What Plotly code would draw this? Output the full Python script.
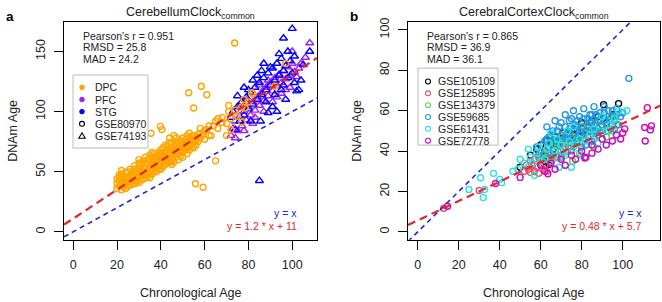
import plotly.graph_objects as go

W, H = 662, 302

# ---------------- data: panel a (CerebellumClock common) ----------------
dpc_pts = [
    (20,36),(20,40),(20,44),(21,38),(21,42),(21,47),(22,35),(22,40),(22,44),(22,48),(23,37),(23,42),(23,46),
    (24,39),(24,44),(24,49),(25,41),(25,45),(25,38),(26,43),(26,47),(27,40),(27,45),(27,50),(28,44),(28,48),
    (28,52),(29,42),(29,47),(29,51),(30,45),(30,49),(30,53),(30,41),(31,47),(31,52),(31,57),(32,44),(32,50),
    (32,55),(33,48),(33,53),(33,58),(34,46),(34,51),(34,56),(35,49),(35,54),(35,60),(35,45),(36,52),(36,57),
    (36,62),(37,50),(37,55),(37,60),(38,53),(38,58),(38,63),(39,55),(39,60),(39,66),(40,52),(40,57),(40,62),
    (40,68),(41,58),(41,63),(41,70),(42,56),(42,61),(42,66),(43,60),(43,65),(43,71),(44,58),(44,63),(44,68),
    (45,61),(45,66),(45,73),(45,56),(46,64),(46,69),(47,62),(47,67),(47,74),(48,65),(48,70),(49,63),(49,68),
    (49,76),(50,66),(50,71),(50,78),(51,68),(51,73),(52,70),(52,75),(53,72),(53,78),(54,70),(54,76),(55,74),
    (55,80),(35.5,82),(39.8,87.7),(40.5,85),(52.7,115.6),(55,103),(58.5,121),(73.7,157),(65,59),(55.8,40),
    (59.3,37),(56,76),(57,81),(58,78),(60,84),(62,88),(63,80),(65,92),(66,86),(68,95),(70,90),(71,100),
    (72,94),(74,101),(75,96),(77,104),(78,110),(80,108),(82,115),(92,121),
    (97,140),(61,114),(68,91),(72,85),(77,91),(71,105),(70,80),(78.5,103),(81.5,115.6),
    (21,45),(22,51),(23,40),(24,36),(25,50),(26,39),(26,52),(27,42),(28,40),(28,55),(29,45),(30,57),(31,43),
    (31,50),(32,47),(32,59),(33,45),(33,62),(34,49),(34,60),(35,52),(35,64),(36,48),(36,55),(37,53),(37,65),
    (38,50),(38,61),(39,52),(39,63),(40,55),(40,65),(41,54),(41,66),(42,59),(42,72),(43,57),(43,68),(44,61),
    (44,74),(45,59),(45,70),(46,58),(46,72),(47,65),(47,78),(48,60),(48,75),(49,66),(49,72),(50,62),(50,74),
    (51,70),(51,76),(52,65),(52,80),(53,68),(53,82),(54,73),(54,79),(55,70),(55,77),(56,72),(57,75),(58,82),
    (59,80),(60,77),(61,85),(62,80),(64,88),(66,94),(58,86),(46,80),(44,78),(36,66),(30,60),
]
pfc_pts = [
    (72,80),(73,86),(74,92),(75,84),(76,96),(77,88),(78,100),(79,93),(80,104),(81,97),(82,108),(83,101),
    (84,112),(85,105),(86,116),(87,109),(88,120),(89,113),(90,124),(91,117),(92,128),(93,121),(94,131),
    (95,124),(96,134),(97,127),(98,137),(99,130),(100,140),(101,133),(102,129),(103,136),(104,140),(100,150),
    (108,157),(106,145),(76,104),(79,110),(83,95),(87,100),(91,108),(95,115),(99,120),(85,122),(89,126),
    (93,112),(97,118),(74,78),(78,84),(82,90),
]
stg_pts = [
    (72,95),(73,100),(74,85),(75,104),(76,92),(77,108),(78,97),(79,112),(80,102),(81,116),(82,106),(83,120),
    (84,110),(85,124),(86,114),(87,128),(88,118),(89,132),(90,122),(91,136),(92,126),(93,140),(94,130),
    (95,144),(96,134),(97,138),(98,128),(99,142),(100,132),(101,146),(102,117),(103,118),(104,126),(105,139),
    (100,169),(96,161),(108,150),(89,99),(81,92),(85.5,92),(85,42.5),(80,118),(84,130),(88,108),(92,114),
    (96,122),(90,137),(94,148),(86,134),(82,126),(78,120),(98,150),(75,113),(93,100),(97,110),(101,124),
    (87,140),(91,104),(95,118),
]
fit_a = (1.2, 11)

# ---------------- data: panel b (CerebralCortexClock common) ----------------
gse105109_pts = [
    (55,38),(58,41),(60,43),(62,40),(63,45),(64,36),(65,44),(66,41),(67,47),(68,43),(70,46),(71,49),(72,44),
    (74,48),(76,51),(77,46),(78,50),(80,54),(81,48),(83,52),(85,55),(86,50),(88,57),(90.7,63),(92,54),
    (95,58),(98,63.5),(62,35),(64,33.5),(50,32),
]
gse125895_pts = [
    (30,20.5),(12.7,11.7),(52,30),(53,33),(54,31),(55,35),(56,33),(57,36),(58,32),(59,37),(60,34),(61,38),
    (62,33),(63,36),(64,39),(65,35),(66,38),(68,37),(70,40),(72,42),(57,30),(59,29),(61,31),(63,30),(55,29.5),
]
gse134379_pts = [
    (60,36),(62,39),(64,41),(66,37),(68,42),(70,38),(72,44),(73,40),(75.6,35),(75,46),(76,42),(78,47),(79,39),
    (80,44),(82,49),(84,45),(85,50),(86,42),(88,48),(90,52),(92,47),(94,55),(95,50),(97,53),(66,45),(70,47),
    (74,49),(80,52),(63,37),(67,43),(71,45),(77,44),(81,46),(83,53),(87,54),(91,55),(93,50),(96,57),
]
gse59685_pts = [
    (60,40),(61,43),(62,38),(63,46),(64,42),(65,48),(66,40),(67,45),(68,50),(69,43),(70,48),(71,41),(72,52),
    (73,46),(74,55),(75,44),(76,49),(77,53),(78,45),(79,57),(80,48),(81,52),(82,43),(83,56),(84,50),(85,54),
    (86,46),(87,58),(88,51),(89,55),(90,49),(91,59),(92,53),(93,57),(94,51),(95,60),(96,55),(97,58),(98,53),
    (100,59),(103,76),(63,52),(67,55),(72,58),(76,60),(81,61),(86,62),(91,62),(70,37),(75,40),(80,42),(85,45),
    (62,45),(64,47),(66,50),(68,45),(69,52),(70,54),(71,46),(73,49),(74,51),(75,56),(76,46),(77,50),(78,55),
    (79,48),(80,51),(81,56),(82,50),(83,47),(84,54),(85,58),(86,53),(87,50),(88,55),(89,59),(90,53),(91,56),
    (92,50),(93,60),(94,56),(96,51),(97,61),(99,57),(58,42),(59,38),(65,39),(72,47),(78,52),(84,58),
]
gse61431_pts = [
    (25,21),(30.7,26.8),(32,17),(32.6,21),(37,29),(40,26),(41,24.4),(46.5,30),(49,31),(57,28),(69,32),(75,32),
    (52,34),(55,37),(58,39),(60,35),(63,41),(66,36),(68,46),(71,39),(73,50),(77,43),(80,38),(84,48),(88,44),
    (92,50),(96,56),(54,41),(50,36),(65,49),(56,34),(59,42),(62,36),(64,44),(67,40),(70,43),(72,38),(74,45),
    (76,52),(79,46),(82,45),(86,51),(90,57),(94,53),(98,60),(102,60),
]
gse72778_pts = [
    (14.6,12.7),(38,24),(50,27),(63.5,28.8),(81.5,36.6),(85,39),(100,49),(101,51),(112,61.5),(110.7,51.7),
    (114,52.5),(111,45),(60,33),(62,30),(65,34),(67,31),(70,36),(72,33),(75,38),(77,36),(80,40),(82,37),
    (85,43),(88,41),(90,46),(92,43),(95,45),(97,48),(99,46),(113.5,50.5),
]
fit_b = (0.48, 5.7)

series_a = [("PFC", pfc_pts, "#A020F0", "triangle-up-open"),
            ("STG", stg_pts, "#0000FF", "triangle-up-open"),
            ("DPC", dpc_pts, "#FFA500", "circle-open")]
series_b = [("GSE105109", gse105109_pts, "#000000"),
            ("GSE125895", gse125895_pts, "#DF536B"),
            ("GSE134379", gse134379_pts, "#61D04F"),
            ("GSE59685", gse59685_pts, "#2297E6"),
            ("GSE61431", gse61431_pts, "#28E2E5"),
            ("GSE72778", gse72778_pts, "#CD0BBC")]

xr_a, yr_a = [-4.2, 111.3], [-6.7, 174.7]
xr_b, yr_b = [-4.7, 118.2], [-3.9, 104.0]

RED = "#E3262E"
BLUE = "#2323D6"
FONT = "Liberation Sans, Arial, sans-serif"

def fx(px):
    return px / W

def fy(py):
    return 1 - py / H

fig = go.Figure()

for name, pts, col, sym in series_a:
    fig.add_trace(go.Scatter(x=[p[0] for p in pts], y=[p[1] for p in pts], mode="markers", name=name,
                             marker=dict(symbol=sym, size=7 if "triangle" in sym else 6, color=col,
                                         line=dict(width=1.4, color=col)),
                             xaxis="x", yaxis="y", showlegend=False))
for name, pts, col in series_b:
    fig.add_trace(go.Scatter(x=[p[0] for p in pts], y=[p[1] for p in pts], mode="markers", name=name,
                             marker=dict(symbol="circle-open", size=6, color=col, line=dict(width=1.4, color=col)),
                             xaxis="x2", yaxis="y2", showlegend=False))

# reference lines (identity and fitted)
for xr, fit, xa, ya in [(xr_a, fit_a, "x", "y"), (xr_b, fit_b, "x2", "y2")]:
    fig.add_trace(go.Scatter(x=xr, y=[xr[0], xr[1]], mode="lines", line=dict(color=BLUE, width=1.6, dash="5px,4px"),
                             xaxis=xa, yaxis=ya, showlegend=False, hoverinfo="skip"))
    fig.add_trace(go.Scatter(x=xr, y=[fit[0] * xr[0] + fit[1], fit[0] * xr[1] + fit[1]], mode="lines",
                             line=dict(color=RED, width=2.2, dash="8px,5px"),
                             xaxis=xa, yaxis=ya, showlegend=False, hoverinfo="skip"))

axis_common = dict(showline=True, mirror=True, linecolor="black", linewidth=1, ticks="outside", ticklen=9,
                   tickcolor="black", showgrid=False, zeroline=False, tickfont=dict(size=12.5, color="#222"),
                   ticklabelstandoff=4)

fig.update_layout(
    width=W, height=H, margin=dict(l=0, r=0, t=0, b=0), plot_bgcolor="white", paper_bgcolor="white",
    font=dict(family=FONT, color="#222"), showlegend=False,
    xaxis=dict(domain=[fx(64), fx(317)], range=xr_a, tickvals=[0, 20, 40, 60, 80, 100], anchor="y", **axis_common),
    yaxis=dict(domain=[fy(239), fy(18)], range=yr_a, tickvals=[0, 50, 100, 150], tickangle=-90, anchor="x",
               **axis_common),
    xaxis2=dict(domain=[fx(408), fx(660)], range=xr_b, tickvals=[0, 20, 40, 60, 80, 100], anchor="y2",
                **axis_common),
    yaxis2=dict(domain=[fy(239), fy(18)], range=yr_b, tickvals=[0, 20, 40, 60, 80, 100], tickangle=-90,
                anchor="x2", **axis_common),
)

ann = []
def text(px, py, s, size=10.5, color="#222", xanchor="left", yanchor="middle", angle=0):
    ann.append(dict(x=fx(px), y=fy(py), xref="paper", yref="paper", text=s, showarrow=False, xanchor=xanchor,
                    yanchor=yanchor, textangle=angle, font=dict(size=size, color=color, family=FONT)))

# panel letters and titles
text(4, 13, "<b>a</b>", size=13.5, color="black")
text(348, 13, "<b>b</b>", size=13.5, color="black")
text(190.5, 9, "CerebellumClock<sub>common</sub>", size=12.5, xanchor="center")
text(534, 9, "CerebralCortexClock<sub>common</sub>", size=12.5, xanchor="center")

# axis titles
text(190.5, 293, "Chronological Age", size=12.5, xanchor="center")
text(534, 293, "Chronological Age", size=12.5, xanchor="center")
text(13, 128.5, "DNAm Age", size=12.5, xanchor="center", angle=-90)
text(357, 128.5, "DNAm Age", size=12.5, xanchor="center", angle=-90)

# stats
for i, s in enumerate(["Pearson's r = 0.951", "RMSD = 25.8", "MAD = 24.2"]):
    text(81, 32 + 11.7 * i, s)
for i, s in enumerate(["Pearson's r = 0.865", "RMSD = 36.9", "MAD = 36.1"]):
    text(425, 32 + 11.7 * i, s)

# fit labels
text(299, 212, "y = x", color=BLUE, xanchor="right")
text(299, 225, "y = 1.2 * x + 11", color=RED, xanchor="right")
text(644, 212, "y = x", color=BLUE, xanchor="right")
text(644, 225, "y = 0.48 * x + 5.7", color=RED, xanchor="right")

shapes = []
# legend a
shapes.append(dict(type="rect", xref="paper", yref="paper", x0=fx(73), x1=fx(148), y0=fy(146), y1=fy(72),
                   line=dict(color="#BBBBBB", width=1), fillcolor="white"))
leg_a = [("DPC", "#FFA500", "dot"), ("PFC", "#A020F0", "dot"), ("STG", "#0000FF", "dot"),
         ("GSE80970", "#000000", "circle"), ("GSE74193", "#000000", "tri")]
for i, (lab, col, kind) in enumerate(leg_a):
    cy = 84.5 + 12.3 * i
    cx = 82
    if kind == "dot":
        shapes.append(dict(type="circle", xref="paper", yref="paper", x0=fx(cx - 2.3), x1=fx(cx + 2.3),
                           y0=fy(cy + 2.3), y1=fy(cy - 2.3), fillcolor=col, line=dict(color=col, width=1)))
    elif kind == "circle":
        shapes.append(dict(type="circle", xref="paper", yref="paper", x0=fx(cx - 2.5), x1=fx(cx + 2.5),
                           y0=fy(cy + 2.5), y1=fy(cy - 2.5), line=dict(color=col, width=1.1)))
    else:
        path = f"M {fx(cx - 3.2)} {fy(cy + 2.4)} L {fx(cx + 3.2)} {fy(cy + 2.4)} L {fx(cx)} {fy(cy - 3.2)} Z"
        shapes.append(dict(type="path", xref="paper", yref="paper", path=path, line=dict(color=col, width=1.1)))
    text(93, cy, lab)

# legend b
shapes.append(dict(type="rect", xref="paper", yref="paper", x0=fx(418), x1=fx(498), y0=fy(143), y1=fy(65),
                   line=dict(color="#BBBBBB", width=1), fillcolor="white"))
for i, (lab, pts, col) in enumerate(series_b):
    cy = 78.5 + 12 * i
    cx = 428
    shapes.append(dict(type="circle", xref="paper", yref="paper", x0=fx(cx - 2.5), x1=fx(cx + 2.5),
                       y0=fy(cy + 2.5), y1=fy(cy - 2.5), line=dict(color=col, width=1.1)))
    text(436, cy, lab)

fig.update_layout(annotations=ann, shapes=shapes)
fig.write_html("out.html", config={"displayModeBar": False},
               post_script="document.body.style.margin='0';document.body.style.overflow='hidden';")
